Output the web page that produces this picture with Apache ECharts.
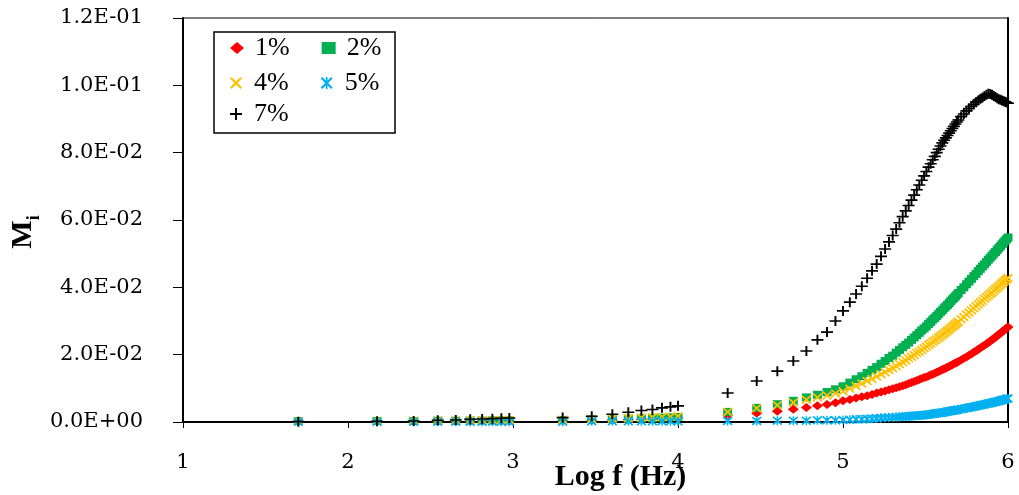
<!DOCTYPE html>
<html><head><meta charset="utf-8">
<script src="https://cdn.jsdelivr.net/npm/echarts@6/dist/echarts.min.js"></script>
<style>html,body{margin:0;padding:0;background:#fff}#c{width:1019px;height:495px}</style>
</head><body><div id="c"></div>
<script>
// Frequencies of the sweep (Hz); x axis shows log10(f)
const freqHz = [50,150,250,350,450,550,650,750,850,950,
  2000,3000,4000,5000,6000,7000,8000,9000,10000,
  20000,30000,40000,50000,60000,70000,80000,90000,100000,
  110000,120000,130000,140000,150000,160000,170000,180000,190000,200000,
  210000,220000,230000,240000,250000,260000,270000,280000,290000,300000,
  310000,320000,330000,340000,350000,360000,370000,380000,390000,400000,
  410000,420000,430000,440000,450000,460000,470000,480000,490000,500000,
  520000,540000,560000,580000,600000,620000,640000,660000,680000,700000,720000,740000,760000,780000,800000,
  820000,840000,860000,880000,900000,920000,940000,960000,980000,1000000];

const seriesNames = ['1%','2%','4%','5%','7%'];

const mi1 = [0.0002,0.0002,0.0002,0.0002,0.0002,0.0003,0.0003,0.0003,0.0003,0.0003,
  0.0004,0.0005,0.0006,0.0007,0.0008,0.0009,0.0010,0.0011,0.0012,
  0.0020,0.0026,0.0032,0.0038,0.0043,0.0048,0.0052,0.0057,0.0063,
  0.0067,0.0071,0.0075,0.0078,0.0082,0.0086,0.0089,0.0092,0.0096,0.0099,
  0.0102,0.0105,0.0108,0.0111,0.0114,0.0117,0.0120,0.0123,0.0126,0.0129,
  0.0132,0.0134,0.0137,0.0140,0.0142,0.0145,0.0148,0.0150,0.0153,0.0155,
  0.0158,0.0160,0.0163,0.0165,0.0168,0.0170,0.0173,0.0175,0.0177,0.0180,
  0.0184,0.0189,0.0193,0.0198,0.0202,0.0207,0.0211,0.0216,0.0220,0.0224,0.0228,0.0232,0.0236,0.0240,0.0244,
  0.0248,0.0252,0.0256,0.0260,0.0264,0.0267,0.0271,0.0275,0.0279,0.0282];

const mi2 = [0.0003,0.0003,0.0003,0.0004,0.0004,0.0004,0.0004,0.0005,0.0005,0.0005,
  0.0006,0.0008,0.0009,0.0010,0.0011,0.0012,0.0013,0.0014,0.0015,
  0.0030,0.0042,0.0053,0.0063,0.0073,0.0081,0.0089,0.0097,0.0106,
  0.0117,0.0127,0.0136,0.0146,0.0155,0.0163,0.0173,0.0181,0.0190,0.0197,
  0.0206,0.0214,0.0222,0.0229,0.0236,0.0244,0.0251,0.0258,0.0265,0.0272,
  0.0278,0.0284,0.0291,0.0297,0.0304,0.0309,0.0315,0.0321,0.0327,0.0332,
  0.0338,0.0343,0.0348,0.0353,0.0359,0.0364,0.0368,0.0373,0.0378,0.0383,
  0.0392,0.0400,0.0409,0.0417,0.0425,0.0433,0.0440,0.0448,0.0455,0.0462,0.0468,0.0475,0.0482,0.0488,0.0494,
  0.0500,0.0505,0.0511,0.0517,0.0522,0.0528,0.0533,0.0538,0.0543,0.0548];

const mi4 = [0.0003,0.0003,0.0004,0.0004,0.0004,0.0005,0.0005,0.0005,0.0006,0.0006,
  0.0007,0.0009,0.0011,0.0012,0.0013,0.0014,0.0015,0.0016,0.0017,
  0.0030,0.0041,0.0050,0.0058,0.0066,0.0073,0.0079,0.0085,0.0091,
  0.0099,0.0107,0.0114,0.0122,0.0128,0.0135,0.0142,0.0148,0.0155,0.0160,
  0.0166,0.0172,0.0178,0.0183,0.0189,0.0194,0.0199,0.0205,0.0209,0.0214,
  0.0219,0.0224,0.0229,0.0233,0.0238,0.0242,0.0246,0.0251,0.0255,0.0259,
  0.0263,0.0267,0.0271,0.0275,0.0279,0.0283,0.0287,0.0290,0.0294,0.0298,
  0.0305,0.0312,0.0319,0.0325,0.0332,0.0338,0.0344,0.0350,0.0355,0.0360,0.0366,0.0371,0.0376,0.0381,0.0385,
  0.0390,0.0395,0.0399,0.0403,0.0408,0.0412,0.0416,0.0420,0.0424,0.0428];

const mi5 = [0.0001,0.0001,0.0001,0.0001,0.0001,0.0001,0.0001,0.0001,0.0001,0.0001,
  0.0001,0.0002,0.0002,0.0002,0.0002,0.0002,0.0002,0.0002,0.0002,
  0.0003,0.0003,0.0004,0.0004,0.0004,0.0005,0.0005,0.0005,0.0006,
  0.0007,0.0008,0.0008,0.0009,0.0010,0.0011,0.0012,0.0013,0.0013,0.0014,
  0.0015,0.0015,0.0016,0.0016,0.0017,0.0018,0.0018,0.0019,0.0019,0.0020,
  0.0021,0.0021,0.0022,0.0023,0.0024,0.0025,0.0026,0.0027,0.0027,0.0028,
  0.0029,0.0030,0.0031,0.0032,0.0033,0.0034,0.0034,0.0035,0.0036,0.0037,
  0.0038,0.0040,0.0041,0.0043,0.0044,0.0045,0.0047,0.0048,0.0050,0.0051,0.0052,0.0054,0.0055,0.0056,0.0057,
  0.0059,0.0060,0.0061,0.0062,0.0064,0.0065,0.0066,0.0067,0.0069,0.0070];

const mi7 = [0.0001,0.0002,0.0003,0.0005,0.0006,0.0008,0.0009,0.0010,0.0011,0.0012,
  0.0013,0.0017,0.0023,0.0029,0.0034,0.0037,0.0042,0.0045,0.0048,
  0.0086,0.0122,0.0151,0.0181,0.0211,0.0244,0.0267,0.0300,0.0330,
  0.0356,0.0380,0.0403,0.0427,0.0449,0.0469,0.0492,0.0514,0.0535,0.0554,
  0.0573,0.0592,0.0610,0.0627,0.0643,0.0659,0.0674,0.0690,0.0704,0.0718,
  0.0731,0.0744,0.0757,0.0767,0.0779,0.0789,0.0800,0.0810,0.0820,0.0829,
  0.0837,0.0844,0.0851,0.0858,0.0865,0.0872,0.0878,0.0885,0.0891,0.0897,
  0.0907,0.0915,0.0924,0.0931,0.0938,0.0944,0.0950,0.0955,0.0960,0.0964,0.0968,0.0972,0.0975,0.0974,0.0972,
  0.0968,0.0965,0.0962,0.0959,0.0957,0.0955,0.0953,0.0951,0.0949,0.0947];

const xTickLabels = ['1','2','3','4','5','6'];
const yTickLabels = ['0.0E+00','2.0E-02','4.0E-02','6.0E-02','8.0E-02','1.0E-01','1.2E-01'];

const colors = ['#FF0000','#00B050','#FFC000','#00B0F0','#000000'];
const SYM_X = 'path://M0,1.3L1.3,0L5,3.7L8.7,0L10,1.3L6.3,5L10,8.7L8.7,10L5,6.3L1.3,10L0,8.7L3.7,5Z';
const SYM_AST = 'path://M0,1.3L1.3,0L5,3.7L8.7,0L10,1.3L6.3,5L10,8.7L8.7,10L5,6.3L1.3,10L0,8.7L3.7,5Z M4.3,0L5.7,0L5.7,10L4.3,10Z';
const SYM_PLUS = 'path://M4.2,0L5.8,0L5.8,4.2L10,4.2L10,5.8L5.8,5.8L5.8,10L4.2,10L4.2,5.8L0,5.8L0,4.2L4.2,4.2Z';
const symbols = ['diamond','rect',SYM_X,SYM_AST,SYM_PLUS];
const symSizes = [[11,9],[9,8],[10,9],[10,9],[12,10]];
const allData = [mi1, mi2, mi4, mi5, mi7];

const FONT = 'Liberation Serif';
const TICKFONT = 'DejaVu Serif';
const series = seriesNames.map((n, k) => ({
  name: n, type: 'scatter',
  data: freqHz.map((f, i) => [f, allData[k][i]]),
  symbol: symbols[k], symbolSize: symSizes[k],
  itemStyle: { color: colors[k], opacity: 1 },
  emphasis: { disabled: true },
  clip: false
}));

const legendBase = {
  orient: 'horizontal', padding: 0, itemGap: 32, itemWidth: 14, itemHeight: 12,
  textStyle: { fontFamily: FONT, fontSize: 26, color: '#000', padding: [0,0,0,6] },
  selectedMode: false, z: 10
};

const chart = echarts.init(document.getElementById('c'), null, { renderer: 'canvas' });
chart.setOption({
  animation: false,
  backgroundColor: '#fff',
  grid: { left: 183, right: 11, top: 18, bottom: 73, outerBoundsMode: 'none', containLabel: false,
    show: true, borderColor: '#000', borderWidth: 1 },
  xAxis: {
    type: 'log', logBase: 10, min: 10, max: 1000000,
    name: 'Log f (Hz)', nameLocation: 'middle', nameGap: 40, nameMoveOverlap: false,
    nameTextStyle: { fontFamily: FONT, fontWeight: 'bold', fontSize: 30, color: '#000', padding: [0,0,0,50] },
    axisLine: { show: true, onZero: false, lineStyle: { color: '#000', width: 2 } },
    axisTick: { show: true, inside: false, length: 6, lineStyle: { color: '#000', width: 1 } },
    minorTick: { show: false },
    splitLine: { show: false },
    axisLabel: { margin: 30, fontFamily: TICKFONT, fontSize: 21, color: '#000',
      formatter: v => xTickLabels[Math.round(Math.log10(v)) - 1] }
  },
  yAxis: [{
    type: 'value', min: 0, max: 0.12, interval: 0.02,
    name: 'M{s|i}', nameLocation: 'middle', nameGap: 140, nameRotate: 90, nameMoveOverlap: false,
    nameTextStyle: { fontFamily: FONT, fontWeight: 'bold', fontSize: 30, color: '#000', lineHeight: 40,
      padding: [0, 24, 0, 0],
      rich: { s: { fontFamily: FONT, fontWeight: 'bold', fontSize: 18, lineHeight: 18, verticalAlign: 'bottom', color: '#000' } } },
    axisLine: { show: true, lineStyle: { color: '#000', width: 2 } },
    axisTick: { show: true, inside: false, length: 10, lineStyle: { color: '#000', width: 1 } },
    splitLine: { show: false },
    axisLabel: { margin: 40, fontFamily: TICKFONT, fontSize: 21, color: '#000',
      formatter: v => yTickLabels[Math.round(v / 0.02)] }
  }, {
    type: 'value', min: 0, max: 0.12, interval: 0.02, position: 'right',
    axisLine: { show: true, lineStyle: { color: '#000', width: 2 } },
    axisTick: { show: false }, axisLabel: { show: false }, splitLine: { show: false }
  }],
  legend: [
    Object.assign({}, legendBase, { left: 230, top: 35, data: [{name:'1%', icon: symbols[0]}, {name:'2%', icon: symbols[1]}] }),
    Object.assign({}, legendBase, { left: 230, top: 70, data: [{name:'4%', icon: symbols[2]}, {name:'5%', icon: symbols[3]}] }),
    Object.assign({}, legendBase, { left: 230, top: 101, data: [{name:'7%', icon: symbols[4]}] })
  ],
  graphic: [{
    type: 'rect', z: 5, silent: true,
    shape: { x: 214, y: 32, width: 181, height: 101 },
    style: { fill: '#fff', stroke: '#000', lineWidth: 1.5 }
  }],
  series: series
});
</script>
</body></html>
